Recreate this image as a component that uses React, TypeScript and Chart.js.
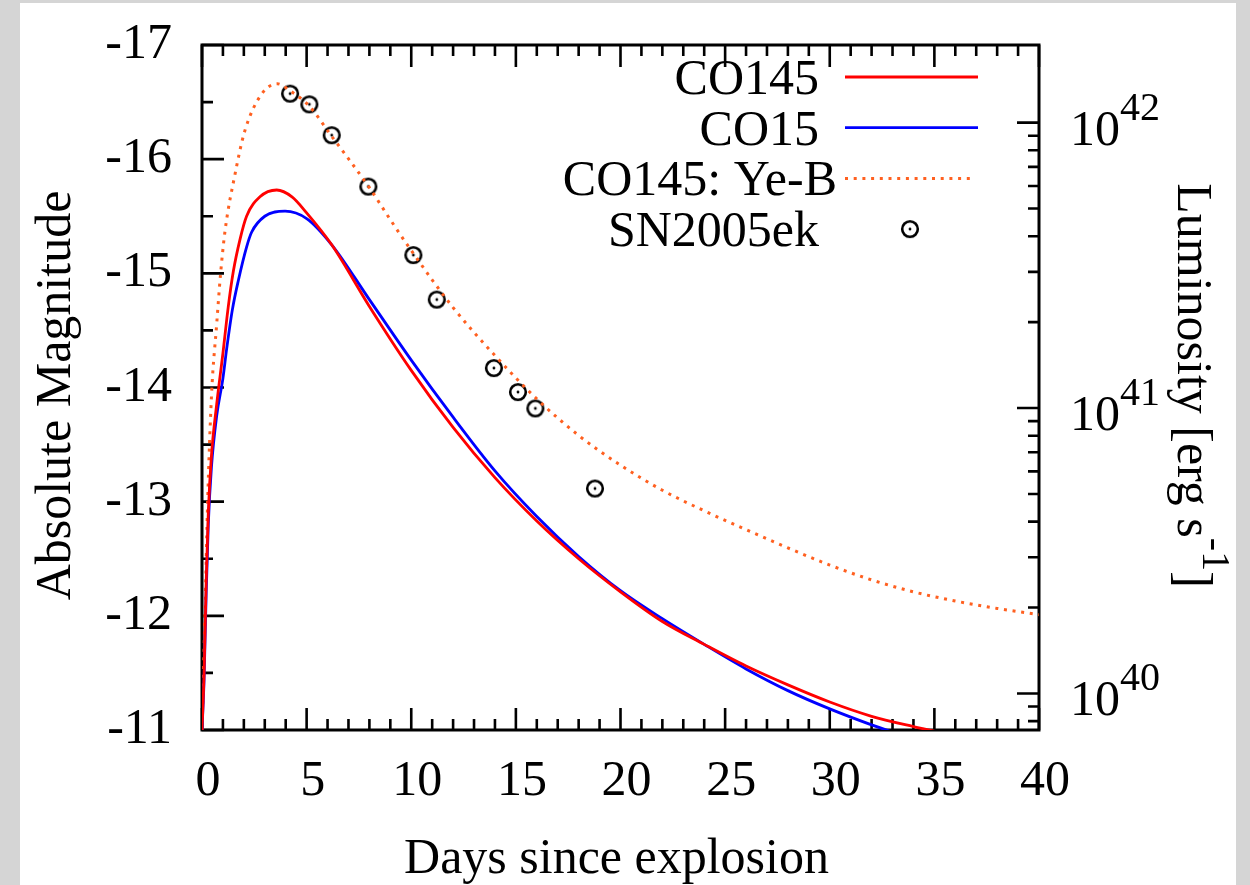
import React, { useEffect, useRef } from "react";
import { Chart, registerables } from "chart.js";

Chart.register(...registerables);

// ---------- data ----------
const co145Days = [0, 0.1, 0.2, 0.3, 0.45, 0.7, 1.0, 1.25, 1.5, 1.82, 2.13, 2.77, 3.57, 4.3, 5.0, 6.2, 8.0, 10, 12, 14, 16, 18, 20, 22, 24, 26, 28, 30, 32, 34, 36];
const co145Mag = [-11.0, -11.5, -12.3, -12.9, -13.4, -13.85, -14.3, -14.7, -15.02, -15.3, -15.5, -15.67, -15.73, -15.67, -15.53, -15.25, -14.71, -14.15, -13.65, -13.21, -12.83, -12.5, -12.21, -11.95, -11.75, -11.56, -11.395, -11.245, -11.12, -11.03, -10.95];

const co15Days = [0, 0.1, 0.2, 0.3, 0.45, 0.7, 1.0, 1.18, 1.45, 1.74, 2.13, 2.37, 3.0, 3.97, 5.0, 6.2, 8.0, 10, 12, 14, 16, 18, 20, 22, 24, 26, 28, 30, 32, 34];
const co15Mag = [-11.0, -11.45, -12.2, -12.8, -13.3, -13.75, -14.08, -14.34, -14.68, -14.94, -15.23, -15.36, -15.5, -15.545, -15.48, -15.25, -14.77, -14.24, -13.74, -13.27, -12.87, -12.52, -12.22, -11.975, -11.75, -11.535, -11.345, -11.185, -11.045, -10.92];

const yeBDays = [0, 0.07, 0.14, 0.27, 0.46, 0.7, 0.88, 1.1, 1.58, 2.05, 2.85, 3.6, 4.2, 5.1, 6.2, 8, 9, 10, 12, 14, 16, 18, 20, 22, 24, 26, 28, 30, 32, 34, 36, 38, 40];
const yeBMag = [-11.0, -11.5, -12.0, -13.0, -13.95, -14.55, -14.98, -15.37, -15.87, -16.25, -16.57, -16.66, -16.6, -16.47, -16.2, -15.75, -15.47, -15.2, -14.7, -14.28, -13.9, -13.58, -13.32, -13.1, -12.92, -12.755, -12.595, -12.445, -12.315, -12.21, -12.13, -12.065, -12.01];

const snDays = [4.21, 5.13, 6.2, 7.95, 10.1, 11.22, 13.95, 15.1, 15.93, 18.78];
const snMag = [-16.574, -16.48, -16.21, -15.76, -15.16, -14.77, -14.17, -13.96, -13.817, -13.115];

const seriesLabels = ["CO145", "CO15", "CO145: Ye-B", "SN2005ek"];
const dayRange = [0, 40];
const magRange = [-17, -11];
const lumExponents = [40, 41, 42];
const lumZeroPoint = 88.68; // M = zp - 2.5 log10(L)

const xTitle = "Days since explosion";
const yTitle = "Absolute Magnitude";
const y2Title = "Luminosity [erg s";
const y2TitleSup = "-1";
const y2TitleEnd = "]";

// ---------- style ----------
const FONT = "'Liberation Serif', 'Times New Roman', serif";
const RED = "#ff0000";
const BLUE = "#0000ff";
const ORANGE = "#ff6020";

function makeSymbol(): HTMLCanvasElement {
  const c = document.createElement("canvas");
  c.width = 24;
  c.height = 24;
  const g = c.getContext("2d")!;
  g.strokeStyle = "#000";
  g.lineWidth = 2.6;
  g.beginPath();
  g.arc(12, 12, 7.8, 0, Math.PI * 2);
  g.stroke();
  g.fillStyle = "#000";
  g.beginPath();
  g.arc(12, 12, 1.4, 0, Math.PI * 2);
  g.fill();
  return c;
}

const toXY = (xs: number[], ys: number[]) => xs.map((x, i) => ({ x, y: ys[i] }));
const magToLum = (m: number) => Math.pow(10, (lumZeroPoint - m) / 2.5);

export default function App() {
  const ref = useRef<HTMLCanvasElement | null>(null);

  useEffect(() => {
    const canvas = ref.current;
    if (!canvas) return;
    const sym = makeSymbol();

    const framePlugin = {
      id: "gnuframe",
      beforeDraw(chart: any) {
        const ctx = chart.ctx;
        ctx.save();
        ctx.fillStyle = "#d5d5d5";
        ctx.fillRect(0, 0, chart.width, chart.height);
        ctx.fillStyle = "#ffffff";
        ctx.fillRect(20, 3, 1216, chart.height - 3);
        ctx.restore();
      },
      beforeDatasetsDraw(chart: any) {
        const ctx = chart.ctx;
        const a = chart.chartArea;
        const xs = chart.scales.x;
        const ys = chart.scales.y;
        const yr = chart.scales.yR;
        ctx.save();
        ctx.strokeStyle = "#000";
        ctx.lineWidth = 2.6;
        ctx.lineCap = "butt";
        ctx.beginPath();
        for (let d = dayRange[0]; d <= dayRange[1]; d += 1) {
          const px = xs.getPixelForValue(d);
          const len = d % 5 === 0 ? 22 : 11;
          ctx.moveTo(px, a.bottom);
          ctx.lineTo(px, a.bottom - len);
          ctx.moveTo(px, a.top);
          ctx.lineTo(px, a.top + len);
        }
        for (let m = magRange[0]; m <= magRange[1] + 1e-9; m += 0.5) {
          const py = ys.getPixelForValue(m);
          const len = Math.abs(m - Math.round(m)) < 1e-6 ? 22 : 11;
          ctx.moveTo(a.left, py);
          ctx.lineTo(a.left + len, py);
        }
        for (let e = 39; e <= 42; e++) {
          for (let k = 1; k <= 9; k++) {
            const v = k * Math.pow(10, e);
            if (v < yr.min || v > yr.max) continue;
            const py = yr.getPixelForValue(v);
            const len = k === 1 ? 22 : 11;
            ctx.moveTo(a.right, py);
            ctx.lineTo(a.right - len, py);
          }
        }
        ctx.stroke();
        ctx.lineWidth = 3;
        ctx.strokeRect(a.left, a.top, a.right - a.left, a.bottom - a.top);
        ctx.restore();
      },
      afterDraw(chart: any) {
        const ctx = chart.ctx;
        const a = chart.chartArea;
        const yr = chart.scales.yR;
        ctx.save();
        ctx.fillStyle = "#000";
        // right axis labels 10^n
        for (const e of lumExponents) {
          const py = yr.getPixelForValue(Math.pow(10, e));
          ctx.font = `50px ${FONT}`;
          ctx.textAlign = "left";
          ctx.textBaseline = "alphabetic";
          const x0 = a.right + 31;
          ctx.fillText("10", x0, py + 22);
          const w = ctx.measureText("10").width;
          ctx.font = `40px ${FONT}`;
          ctx.fillText(String(e), x0 + w, py - 3);
        }
        // x title
        ctx.font = `50px ${FONT}`;
        ctx.textAlign = "center";
        ctx.textBaseline = "alphabetic";
        ctx.fillText(xTitle, (a.left + a.right) / 2 - 4, 873);
        // left title
        ctx.save();
        ctx.translate(70, (a.top + a.bottom) / 2 + 8);
        ctx.rotate(-Math.PI / 2);
        ctx.fillText(yTitle, 0, 0);
        ctx.restore();
        // right title
        ctx.save();
        ctx.font = `50px ${FONT}`;
        const w1 = ctx.measureText(y2Title).width;
        const w3 = ctx.measureText(y2TitleEnd).width;
        ctx.font = `40px ${FONT}`;
        const w2 = ctx.measureText(y2TitleSup).width;
        const total = w1 + w2 + w3;
        ctx.translate(1178, (a.top + a.bottom) / 2 - total / 2 - 2);
        ctx.rotate(Math.PI / 2);
        ctx.textAlign = "left";
        ctx.font = `50px ${FONT}`;
        ctx.fillText(y2Title, 0, 0);
        ctx.font = `40px ${FONT}`;
        ctx.fillText(y2TitleSup, w1, -25);
        ctx.font = `50px ${FONT}`;
        ctx.fillText(y2TitleEnd, w1 + w2, 0);
        ctx.restore();
        // legend
        const rows = [77, 127.7, 178.4, 229.1];
        const textRight = [819, 819, 837, 819];
        chart.data.datasets.forEach((ds: any, i: number) => {
          const ry = rows[i];
          ctx.font = `50px ${FONT}`;
          ctx.textAlign = "right";
          ctx.textBaseline = "alphabetic";
          ctx.fillStyle = "#000";
          ctx.fillText(ds.label, textRight[i], ry + 17);
          if (ds.showLine === false) {
            ctx.drawImage(sym, 910 - sym.width / 2, ry - sym.height / 2);
          } else {
            ctx.save();
            ctx.strokeStyle = ds.borderColor;
            ctx.lineWidth = ds.borderWidth;
            ctx.setLineDash(ds.borderDash || []);
            ctx.beginPath();
            ctx.moveTo(845, ry);
            ctx.lineTo(ds.borderDash ? 975 : 978, ry);
            ctx.stroke();
            ctx.restore();
          }
        });
        ctx.restore();
      },
    };

    const chart = new Chart(canvas, {
      type: "line",
      data: {
        datasets: [
          {
            label: seriesLabels[0],
            data: toXY(co145Days, co145Mag),
            borderColor: RED,
            borderWidth: 2.8,
            pointRadius: 0,
            cubicInterpolationMode: "monotone",
            fill: false,
            yAxisID: "y",
          },
          {
            label: seriesLabels[1],
            data: toXY(co15Days, co15Mag),
            borderColor: BLUE,
            borderWidth: 2.8,
            pointRadius: 0,
            cubicInterpolationMode: "monotone",
            fill: false,
            yAxisID: "y",
          },
          {
            label: seriesLabels[2],
            data: toXY(yeBDays, yeBMag),
            borderColor: ORANGE,
            borderWidth: 3,
            borderDash: [3, 5.7],
            borderCapStyle: "butt",
            pointRadius: 0,
            cubicInterpolationMode: "monotone",
            fill: false,
            yAxisID: "y",
          },
          {
            label: seriesLabels[3],
            data: toXY(snDays, snMag),
            showLine: false,
            pointStyle: sym,
            pointRadius: 9,
            borderColor: "#000",
            backgroundColor: "rgba(0,0,0,0)",
            yAxisID: "y",
          },
        ] as any,
      },
      options: {
        responsive: false,
        animation: false,
        devicePixelRatio: 1,
        layout: { padding: { top: 40, left: 0, right: 0, bottom: 0 } },
        plugins: { legend: { display: false }, tooltip: { enabled: false } },
        scales: {
          x: {
            type: "linear",
            position: "bottom",
            min: dayRange[0],
            max: dayRange[1],
            ticks: {
              stepSize: 5,
              font: { family: FONT, size: 50 },
              color: "#000",
              padding: 22,
              labelOffset: 6,
              maxRotation: 0,
              autoSkip: false,
              callback: (v: any) => String(v),
            },
            grid: { display: false, drawTicks: false },
            border: { display: false },
            afterFit: (s: any) => {
              s.height = 155;
            },
          },
          y: {
            type: "linear",
            position: "left",
            min: magRange[0],
            max: magRange[1],
            reverse: true,
            ticks: {
              stepSize: 1,
              font: { family: FONT, size: 50, lineHeight: 0.6 },
              color: "#000",
              padding: 30,
              callback: (v: any) => String(v),
            },
            grid: { display: false, drawTicks: false },
            border: { display: false },
            afterFit: (s: any) => {
              s.width = 202;
            },
          },
          yR: {
            type: "logarithmic",
            position: "right",
            min: magToLum(magRange[1]),
            max: magToLum(magRange[0]),
            ticks: { display: false },
            grid: { display: false, drawTicks: false },
            border: { display: false },
            afterFit: (s: any) => {
              s.width = 211;
            },
          },
        },
      } as any,
      plugins: [framePlugin],
    });

    return () => chart.destroy();
  }, []);

  return (
    <div style={{ position: "absolute", left: 0, top: 0, width: 1250, height: 885 }}>
      <canvas ref={ref} width={1250} height={885} style={{ display: "block" }} />
    </div>
  );
}
